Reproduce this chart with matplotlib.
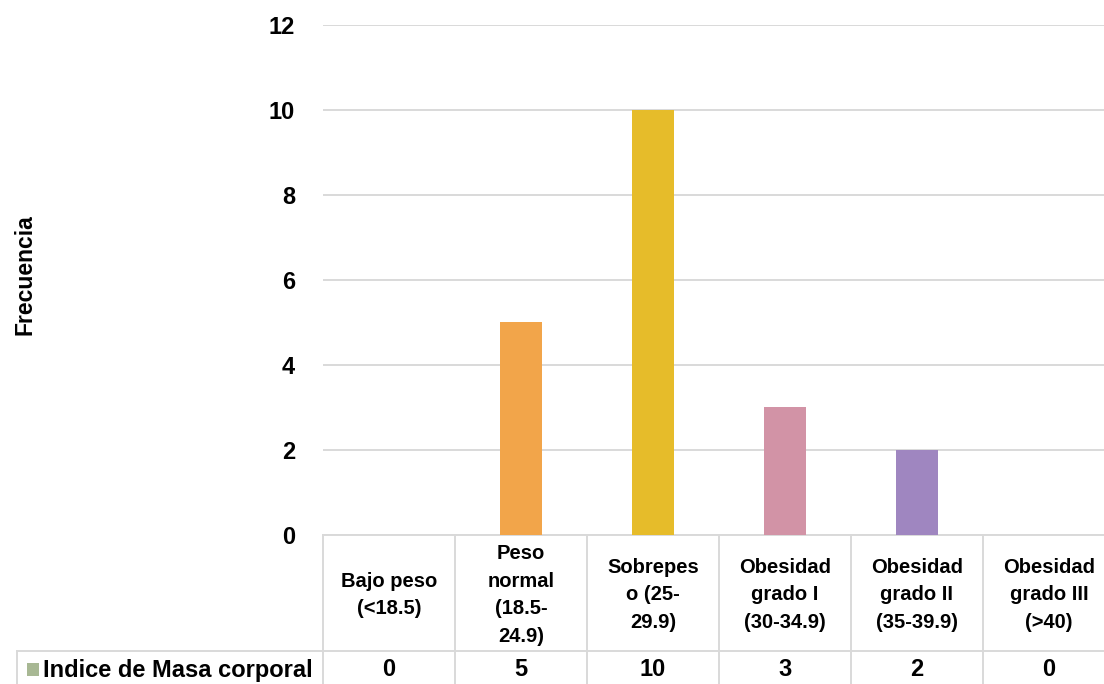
import matplotlib
matplotlib.use("Agg")
import matplotlib.pyplot as plt
import matplotlib.transforms as mtransforms
from matplotlib.patches import Rectangle

plt.rcParams['font.family'] = ['Liberation Sans', 'DejaVu Sans']
plt.rcParams['font.weight'] = 'bold'

# Data
categories = [
    "Bajo peso\n(<18.5)",
    "Peso\nnormal\n(18.5-\n24.9)",
    "Sobrepes\no (25-\n29.9)",
    "Obesidad\ngrado I\n(30-34.9)",
    "Obesidad\ngrado II\n(35-39.9)",
    "Obesidad\ngrado III\n(>40)",
]
values = [0, 5, 10, 3, 2, 0]
bar_colors = ["#A8B894", "#F2A54A", "#E6BC2A", "#D293A6", "#9F86C0", "#A8B894"]
series_name = "Indice de Masa corporal"
legend_color = "#A8B894"
y_ticks = [0, 2, 4, 6, 8, 10, 12]
y_label = "Frecuencia"

W, H = 1104, 684
fig = plt.figure(figsize=(W / 100, H / 100), dpi=100)
fig.patch.set_facecolor("white")

# plot area in pixels
left_px, top_px, bottom_px, cat_w = 323, 24.5, 535, 132
ax = fig.add_axes([left_px / W, (H - bottom_px) / H,
                   cat_w * len(categories) / W, (bottom_px - top_px) / H])

x = list(range(len(categories)))
ax.bar(x, values, width=0.318, color=bar_colors, zorder=3)

ax.set_xlim(-0.5, len(categories) - 0.5)
ax.set_ylim(0, 12)
ax.set_yticks(y_ticks)
ax.set_yticklabels([str(t) for t in y_ticks], fontsize=17, fontweight='bold')
ax.tick_params(axis='y', length=0, pad=20)
ax.set_xticks([])
ax.grid(axis='y', color='#D9D9D9', linewidth=1.4, zorder=0)
ax.set_axisbelow(True)
for s in ax.spines.values():
    s.set_visible(False)

grid_c = '#D9D9D9'
ax_h = bottom_px - top_px
trans = mtransforms.blended_transform_factory(ax.transData, ax.transAxes)
ftrans = mtransforms.blended_transform_factory(fig.transFigure, ax.transAxes)

row1 = -(651 - bottom_px) / ax_h
row_bot = -(700 - bottom_px) / ax_h

# data table grid
for i in range(len(categories) + 1):
    ax.plot([i - 0.5, i - 0.5], [0, row_bot], transform=trans, color=grid_c,
            linewidth=1.4, clip_on=False)
ax.plot([-0.5, len(categories) - 0.5], [0, 0], transform=trans, color=grid_c,
        linewidth=1.4, clip_on=False)
fig.add_artist(plt.Line2D([17 / W, 1.2], [row1, row1], transform=ftrans,
                          color=grid_c, linewidth=1.4))
fig.add_artist(plt.Line2D([17 / W, 17 / W], [row1, row_bot], transform=ftrans,
                          color=grid_c, linewidth=1.4))

# category header row
hdr_y = -(595 - bottom_px) / ax_h
for i, c in enumerate(categories):
    ax.text(i, hdr_y, c, transform=trans, ha='center', va='center',
            fontsize=14.5, fontweight='bold', linespacing=1.57, clip_on=False)

# value row
val_y = -(670 - bottom_px) / ax_h
for i, v in enumerate(values):
    ax.text(i, val_y, str(v), transform=trans, ha='center', va='center',
            fontsize=17, fontweight='bold', clip_on=False)

# legend key and series name
fig.add_artist(Rectangle((27 / W, -(676 - bottom_px) / ax_h), 12 / W, 13 / ax_h,
                         transform=ftrans, facecolor=legend_color, edgecolor='none'))
fig.text(43 / W, val_y, series_name, transform=ftrans, ha='left', va='center',
         fontsize=17, fontweight='bold')

# axis title
fig.text(25 / W, 1 - (275 - top_px) / ax_h, y_label, rotation=90,
         ha='center', va='center', transform=ftrans,
         fontsize=16.5, fontweight='bold')

fig.savefig("out.png", dpi=100, facecolor="white")
